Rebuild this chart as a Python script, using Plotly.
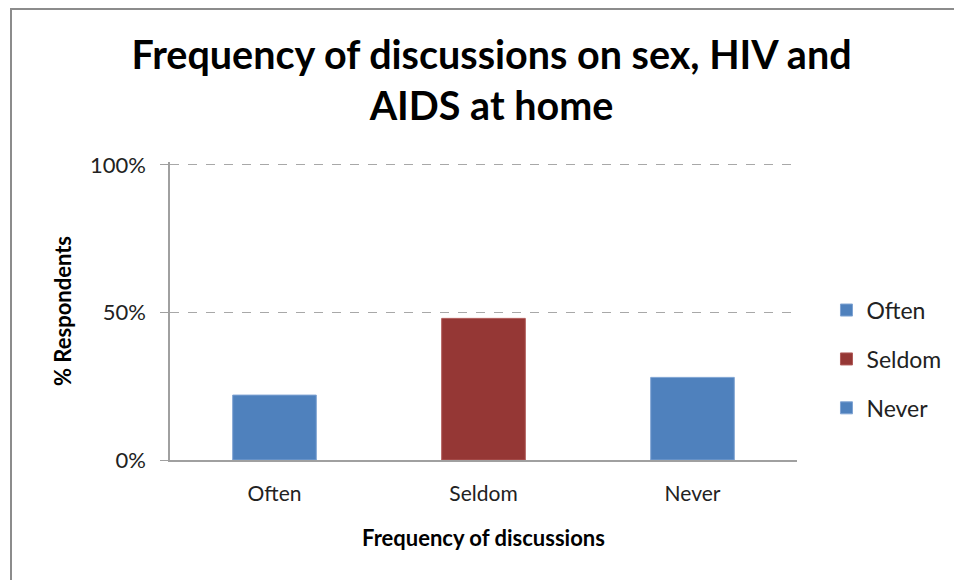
import plotly.graph_objects as go

categories = ["Often", "Seldom", "Never"]
values = [22, 48, 28]
colors = ["#4F81BD", "#953735", "#4F81BD"]
edge_colors = ["#7FA3D3", "#B05A58", "#7FA3D3"]
y_ticks = [0, 50, 100]
y_tick_labels = ["0%", "50%", "100%"]

FONT = "Lato"

# plot area: 0% at y=452 (figure px), 100% at y=157; range extends to 101
PLOT_H = 295 * 101 / 100
TOP = 452 - PLOT_H

fig = go.Figure()
for i, (cat, val) in enumerate(zip(categories, values)):
    fig.add_trace(go.Bar(
        x=[cat], y=[val], name=cat,
        marker=dict(color=colors[i], line=dict(color=edge_colors[i], width=1)),
        width=0.4, legendgroup=f"g{i}",
    ))

fig.update_layout(
    width=962, height=580,
    margin=dict(l=162, r=173, t=TOP, b=128),
    paper_bgcolor="white", plot_bgcolor="white",
    barmode="overlay",
    title=dict(
        text="Frequency of discussions on sex, HIV and<br>AIDS at home",
        x=483.5 / 962, xanchor="center", y=1 - 61 / 580, yanchor="middle",
        font=dict(family=FONT, size=39.5, color="black", weight="bold"),
    ),
    xaxis=dict(
        categoryorder="array", categoryarray=categories,
        showline=True, linecolor="#A0A0A0", linewidth=1.5,
        ticks="", showgrid=False, ticklabelstandoff=14,
        tickfont=dict(family=FONT, size=21, color="#222222"),
        title=dict(text="Frequency of discussions", standoff=27,
                   font=dict(family=FONT, size=22, color="black", weight="bold")),
    ),
    yaxis=dict(
        range=[0, 101], tickvals=y_ticks, ticktext=y_tick_labels,
        showline=True, linecolor="#A0A0A0", linewidth=1.5,
        ticks="outside", ticklen=8, tickcolor="#A0A0A0",
        ticklabelstandoff=10,
        showgrid=True, gridcolor="#A8A8A8", griddash="dash", gridwidth=1,
        zeroline=False,
        tickfont=dict(family=FONT, size=22, color="#222222"),
        title=dict(text="% Respondents", standoff=12,
                   font=dict(family=FONT, size=22, color="black", weight="bold")),
    ),
    legend=dict(
        x=1.047, y=0.342 * 100 / 101, xanchor="left", yanchor="middle",
        font=dict(family=FONT, size=23, color="#222222"),
        tracegroupgap=16, itemwidth=30,
        bgcolor="rgba(0,0,0,0)",
    ),
    shapes=[dict(
        type="rect", xref="paper", yref="paper",
        x0=(11 - 170) / 627, x1=2.0, y0=-1.0, y1=(452 - 1) / PLOT_H,
        line=dict(color="#8C8C8C", width=2), layer="below",
    )],
)

fig.write_html("out.html")
